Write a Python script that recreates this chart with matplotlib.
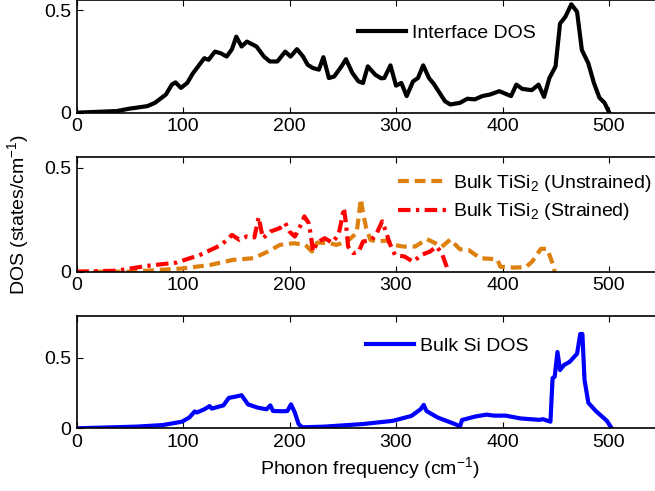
import numpy as np
import matplotlib
matplotlib.use('Agg')
from matplotlib import pyplot as plt

plt.rcParams['font.family'] = ['Liberation Sans', 'DejaVu Sans']
plt.rcParams['mathtext.fontset'] = 'custom'
plt.rcParams['mathtext.rm'] = 'Liberation Sans'
plt.rcParams['mathtext.default'] = 'regular'
plt.rcParams['font.size'] = 14

# interface DOS (black)
iface_x = [0, 38, 49, 66.5, 73.6, 84, 89.5, 93, 98, 104, 109, 120, 124, 130, 135.5, 141, 146, 150,
           155, 160, 169, 176, 181.5, 188.6, 196, 201, 207, 212.7, 217, 222, 227.6, 231.8, 237, 242,
           248.8, 253, 259, 264.7, 269, 273.5, 280.6, 286, 289, 294.8, 300, 305, 310, 316, 320.6,
           325.5, 331, 335.5, 346, 351, 360, 367, 374, 381, 388.5, 397, 408, 413, 418.6, 427.5,
           433.8, 439, 444, 449.8, 454, 459, 464.6, 470, 474.5, 480.5, 485.8, 491, 495.8, 500]
iface_y = [0, 0.008, 0.019, 0.032, 0.048, 0.089, 0.137, 0.148, 0.121, 0.145, 0.19, 0.266, 0.258,
           0.298, 0.29, 0.274, 0.31, 0.371, 0.323, 0.347, 0.323, 0.274, 0.25, 0.25, 0.298, 0.274,
           0.31, 0.274, 0.234, 0.218, 0.21, 0.271, 0.169, 0.177, 0.226, 0.261, 0.194, 0.153, 0.145,
           0.226, 0.185, 0.168, 0.169, 0.231, 0.132, 0.145, 0.081, 0.153, 0.169, 0.231, 0.169, 0.14,
           0.056, 0.04, 0.048, 0.068, 0.065, 0.081, 0.089, 0.105, 0.081, 0.137, 0.116, 0.11, 0.137,
           0.077, 0.169, 0.226, 0.435, 0.468, 0.529, 0.492, 0.306, 0.242, 0.145, 0.073, 0.048, 0.003]

# bulk TiSi2 unstrained (orange)
unstr_x = [0, 47, 66, 100, 125, 147, 166, 179, 191, 204, 215, 221, 226, 238, 244, 254, 263, 265,
           267, 269, 272, 276, 282, 291, 298, 307, 318, 329, 337, 343, 351, 360, 368, 379, 395, 398,
           410, 422, 428, 436, 442, 447, 449]
unstr_y = [0, 0, 0.005, 0.016, 0.032, 0.057, 0.065, 0.095, 0.129, 0.137, 0.129, 0.097, 0.14, 0.137,
           0.129, 0.145, 0.186, 0.266, 0.35, 0.282, 0.21, 0.153, 0.145, 0.15, 0.129, 0.121, 0.121,
           0.157, 0.137, 0.12, 0.155, 0.108, 0.105, 0.065, 0.06, 0.024, 0.02, 0.022, 0.05, 0.11,
           0.11, 0.04, 0]

# bulk TiSi2 strained (red)
str_x = [0, 38, 66, 94, 116, 136, 146, 153, 160, 167, 171, 175, 182, 191, 196, 200, 205, 210, 214,
         218, 220, 222, 226, 233, 240, 246, 249, 251, 253, 255, 260, 265, 269, 277, 282, 287, 291,
         294, 299, 308, 316, 324, 332, 338, 343, 347.6, 349]
str_y = [0, 0.005, 0.028, 0.044, 0.081, 0.129, 0.177, 0.153, 0.17, 0.165, 0.262, 0.161, 0.193,
         0.21, 0.234, 0.193, 0.169, 0.218, 0.266, 0.234, 0.177, 0.097, 0.14, 0.161, 0.14, 0.177,
         0.25, 0.306, 0.234, 0.121, 0.089, 0.097, 0.145, 0.153, 0.186, 0.242, 0.186, 0.137, 0.081,
         0.073, 0.048, 0.081, 0.097, 0.121, 0.089, 0.024, 0]

# bulk Si (blue)
si_x = [0, 56.5, 81, 99, 106, 111, 113, 120, 125, 127, 138, 143, 148, 155, 161, 170, 178.4, 182,
        184.5, 194, 198, 201.4, 205, 208.5, 212, 233, 268.6, 297, 314.5, 323, 326, 328.6, 339, 357,
        360, 362, 374.6, 385, 392, 403, 417, 434.6, 438, 445, 447, 449, 451.6, 454, 457.6, 463, 470,
        473, 475, 477, 480.6, 487.6, 498, 502.5]
si_y = [0, 0.012, 0.023, 0.047, 0.077, 0.12, 0.112, 0.135, 0.158, 0.14, 0.163, 0.216, 0.223, 0.235,
        0.17, 0.147, 0.135, 0.163, 0.123, 0.121, 0.123, 0.17, 0.112, 0.03, 0.007, 0.012, 0.03, 0.053,
        0.088, 0.135, 0.166, 0.123, 0.077, 0.025, 0.012, 0.059, 0.084, 0.097, 0.09, 0.09, 0.07, 0.06,
        0.065, 0.047, 0.356, 0.367, 0.542, 0.414, 0.449, 0.472, 0.53, 0.67, 0.67, 0.344, 0.181,
        0.123, 0.053, 0]

xticks = [0, 100, 200, 300, 400, 500]

fig = plt.figure(figsize=(6.55, 4.91), dpi=100)
L, W = 0.1168, 0.8943
ax1 = fig.add_axes([L, 0.7705, W, 0.2295])
ax2 = fig.add_axes([L, 0.4466, W, 0.2330])
ax3 = fig.add_axes([L, 0.1277, W, 0.2293])

ax1.plot(iface_x, iface_y, color='k', lw=3, label='Interface DOS')
ax2.plot(unstr_x, unstr_y, color='#DE800E', lw=3, dashes=(2.6, 1.4),
         label='Bulk TiSi$_2$ (Unstrained)')
ax2.plot(str_x, str_y, color='#FF0000', lw=3, dashes=(3, 1.3, 0.8, 1.3),
         label='Bulk TiSi$_2$ (Strained)')
ax3.plot(si_x, si_y, color='#0000FF', lw=3, label='Bulk Si DOS')

for ax, ymax in [(ax1, 0.55), (ax2, 0.55), (ax3, 0.8)]:
    ax.set_xlim(0, 550)
    ax.set_ylim(0, ymax)
    ax.set_xticks(xticks)
    ax.set_yticks([0, 0.5])
    ax.set_yticklabels(['0', '0.5'])
    ax.tick_params(direction='in', top=True, right=False, length=4, width=0.8, pad=4, labelsize=14)
    for s in ax.spines.values():
        s.set_linewidth(1.2)

ax1.legend(loc='center left', bbox_to_anchor=(0.48, 0.707), frameon=False, borderpad=0,
           borderaxespad=0, handlelength=2.5, handletextpad=0.3, fontsize=14)
ax2.legend(loc='center left', bbox_to_anchor=(0.549, 0.648), frameon=False, borderpad=0,
           borderaxespad=0, handlelength=2.5, handletextpad=0.3, labelspacing=0.4, fontsize=14)
ax3.legend(loc='center left', bbox_to_anchor=(0.494, 0.73), frameon=False, borderpad=0,
           borderaxespad=0, handlelength=2.5, handletextpad=0.3, fontsize=14)

ax2.set_ylabel('DOS (states/cm$^{-1}$)', fontsize=14)
ax2.yaxis.set_label_coords(-0.077, 0.5)
ax3.set_xlabel('Phonon frequency (cm$^{-1}$)', fontsize=14, labelpad=3)

fig.savefig('out.png', dpi=100)
